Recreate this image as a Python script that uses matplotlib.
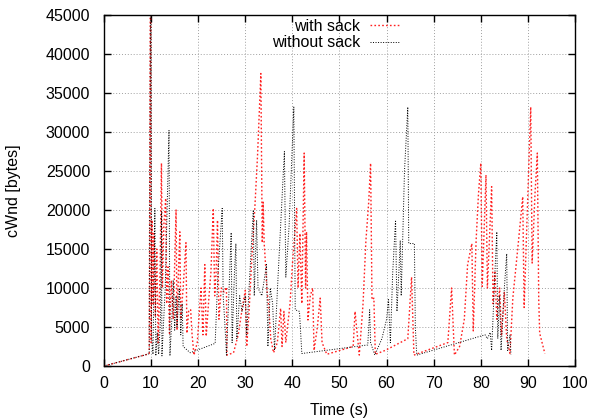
import matplotlib
matplotlib.use('Agg')
import matplotlib.pyplot as plt
import numpy as np

# cWnd con y sin SACK, valores leidos a ojo del grafico
t_sack = [0, 9.2, 9.6, 9.9, 10.0, 10.2, 10.4, 10.6, 10.9, 11.2, 11.5, 11.9, 12.2, 12.4, 12.7,
          13.1, 13.3, 13.6, 13.9, 14.3, 14.7, 15.3, 15.5, 15.8, 16.1, 16.3, 16.8, 17.4, 17.6,
          18.0, 18.4, 18.7, 19.1, 19.8, 20.6, 21.0, 21.4, 21.7, 22.3, 22.7, 23.2, 23.5, 23.8,
          24.1, 24.4, 24.9, 25.5, 26.0, 26.1, 27.5, 28.5, 29.5, 30.0, 30.3, 30.8, 31.4, 32.0,
          32.6, 33.3, 33.6, 33.8, 34.0, 34.3, 34.6, 35.0, 35.4, 36.0, 36.8, 37.5, 37.8, 38.2,
          38.6, 39.5, 40.0, 40.9, 41.2, 41.6, 42.0, 42.5, 42.8, 43.0, 43.3, 43.8, 44.3, 44.6,
          45.3, 45.9, 46.3, 47.3, 52.9, 53.3, 54.2, 55.0, 55.6, 56.2, 56.6, 56.9, 57.3, 57.6,
          59.7, 64.5, 65.3, 65.8, 73.0, 73.8, 74.4, 75.5, 76.5, 77.2, 78.1, 78.4, 79.0, 79.5,
          80.0, 80.3, 81.1, 81.4, 82.3, 82.6, 83.0, 83.4, 84.0, 84.4, 85.0, 85.5, 86.2, 86.8,
          88.0, 88.9, 89.2, 90.0, 90.6, 90.9, 91.5, 92.0, 92.3, 92.5, 93.6]
cwnd_sack = [0, 1500, 1600, 60000, 3000, 18700, 8000, 17000, 6300, 15000, 3000, 12000, 26000, 10000, 18000,
             21500, 8000, 12700, 4200, 11000, 6000, 20000, 4600, 12000, 17200, 6000, 10000, 15800, 4200,
             7200, 7200, 4000, 1400, 3000, 10000, 4000, 13000, 3800, 9000, 12000, 20200, 9000, 12000,
             18700, 6000, 10000, 9500, 10100, 1400, 1700, 4000, 8000, 9700, 2500, 7000, 14000, 20000,
             27000, 37500, 15800, 21000, 15800, 13000, 9700, 7500, 3500, 1700, 3000, 7400, 2500, 7000,
             3000, 8000, 13000, 20200, 10000, 17000, 8000, 27300, 10000, 17200, 5900, 9000, 10000, 2000,
             5000, 8700, 3000, 1500, 2500, 7000, 1400, 8000, 16000, 21000, 26000, 8500, 8700, 1500,
             2000, 3500, 11400, 1400, 3000, 10000, 1400, 2500, 6000, 13000, 15700, 4500, 16000, 22000,
             26000, 10200, 24500, 10000, 23000, 8000, 12000, 6000, 10000, 4000, 9500, 3500, 1600, 8700,
             16000, 21700, 7500, 22000, 33200, 13200, 22000, 27300, 8500, 4200, 1600]

t_nosack = [0, 9.2, 9.6, 9.95, 10.1, 10.4, 10.8, 11.0, 11.3, 11.6, 12.0, 12.2, 12.3, 13.0, 13.8,
            14.0, 14.4, 14.7, 15.0, 15.3, 15.5, 16.0, 16.3, 16.6, 16.8, 18.3, 23.6, 24.2, 25.1,
            25.3, 25.7, 26.0, 26.5, 27.0, 27.2, 27.7, 28.0, 28.2, 28.8, 29.3, 30.0, 30.3, 30.8,
            31.7, 31.9, 32.4, 32.7, 33.5, 34.5, 34.8, 35.3, 35.8, 36.2, 37.0, 38.3, 38.6, 39.3,
            40.3, 40.6, 41.5, 42.0, 56.0, 56.4, 56.6, 57.5, 59.0, 60.0, 60.4, 60.8, 61.3, 61.9,
            62.2, 62.6, 62.9, 63.1, 63.8, 64.5, 64.7, 65.9, 66.1, 66.4, 80.9, 81.4, 82.0, 82.3,
            83.0, 83.4, 83.6, 84.0, 84.3, 85.0, 85.5, 85.7, 86.2, 86.4]
cwnd_nosack = [0, 1500, 1600, 60000, 4000, 1500, 20200, 1300, 4300, 1500, 6000, 19800, 1300, 10000, 30200,
               1300, 6000, 11000, 4600, 9000, 5000, 10000, 4000, 8000, 2500, 1700, 2900, 12000, 20200,
               9000, 5000, 1400, 9000, 17100, 3000, 12000, 15700, 3500, 9000, 7000, 9000, 4000, 10000,
               20000, 9000, 18700, 10000, 9000, 13000, 2500, 10000, 8000, 2000, 12000, 27500, 11400, 18000,
               33200, 7200, 7000, 1600, 2700, 7200, 3000, 1400, 3500, 6000, 8500, 3000, 12000, 18700,
               7000, 12000, 16100, 9000, 25000, 33200, 15700, 15700, 5000, 1400, 4000, 3500, 4300, 2000,
               12000, 17200, 3500, 9000, 2000, 10000, 14400, 2000, 4000, 1500]

plt.rcParams['font.family'] = ['Liberation Sans', 'DejaVu Sans']
plt.rcParams['font.size'] = 11.5

fig = plt.figure(figsize=(5.95, 4.19), dpi=100)
ax = fig.add_axes([104/595, 53/419, 471/595, 351/419])

ax.plot(t_sack, cwnd_sack, color='#ff2020', linestyle=(0, (1.2, 1.6)), linewidth=1.0, label='with sack')
ax.plot(t_nosack, cwnd_nosack, color='black', linestyle=(0, (1, 1.6)), linewidth=0.7, label='without sack')

ax.set_xlim(0, 100)
ax.set_ylim(0, 45000)
ax.set_xticks(np.arange(0, 101, 10))
ax.set_yticks(np.arange(0, 45001, 5000))
ax.tick_params(direction='in', top=True, right=True, length=5, width=1)
ax.tick_params(axis='x', pad=7)
ax.tick_params(axis='y', pad=10)
ax.grid(True, color='#a0a0a0', linestyle=(0, (1, 2)), linewidth=0.7)
for s in ax.spines.values():
    s.set_linewidth(1)

ax.set_xlabel('Time (s)', labelpad=9)
ax.set_ylabel('cWnd [bytes]', labelpad=18)

ax.legend(loc='upper right', bbox_to_anchor=(0.6285, 0.99), frameon=False, markerfirst=False,
          borderpad=0, borderaxespad=0, handlelength=1.9, handletextpad=0.6, labelspacing=0.1)

plt.savefig('out.png', dpi=100)
